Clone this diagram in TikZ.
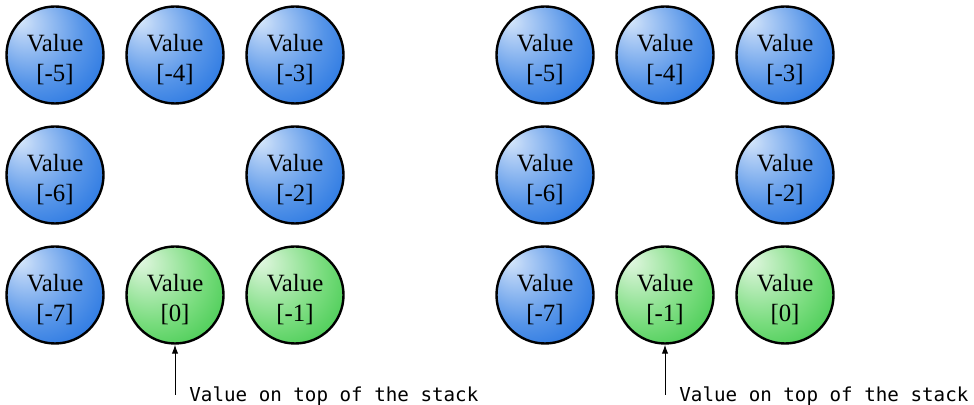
\documentclass[tikz,border=0pt]{standalone}
\usepackage{fontspec}
\setmainfont{Liberation Serif}
\setmonofont{DejaVu Sans Mono}
\usetikzlibrary{arrows.meta}

% spherical fills with a highlight towards the upper left
\pgfdeclareradialshading{bluesphere}{\pgfpoint{-18bp}{18bp}}{%
  color(0bp)=(rgb,255:red,212;green,230;blue,250);
  color(6bp)=(rgb,255:red,180;green,208;blue,246);
  color(26bp)=(rgb,255:red,85;green,148;blue,232);
  color(46bp)=(rgb,255:red,20;green,105;blue,222);
  color(70bp)=(rgb,255:red,0;green,88;blue,212)}
\pgfdeclareradialshading{greensphere}{\pgfpoint{-18bp}{18bp}}{%
  color(0bp)=(rgb,255:red,225;green,247;blue,225);
  color(6bp)=(rgb,255:red,200;green,240;blue,200);
  color(26bp)=(rgb,255:red,120;green,220;blue,125);
  color(46bp)=(rgb,255:red,50;green,196;blue,65);
  color(70bp)=(rgb,255:red,25;green,182;blue,40)}

\begin{document}
\begin{tikzpicture}[x=0.5pt,y=-0.5pt,
  cell/.style={circle,draw=black,line width=1.2pt,minimum size=48.5pt,inner sep=0pt},
  cellText/.style={align=center,inner sep=0pt,yshift=-2.3pt,
    font=\fontsize{12.4}{15.2}\selectfont},
  bluecell/.style={cell,shading=bluesphere},
  greencell/.style={cell,shading=greensphere},
  pointer/.style={line width=0.5pt,-{Latex[length=4.5pt,width=3.2pt]}},
  note/.style={anchor=west,inner sep=0pt,font=\ttfamily\fontsize{9.6}{11}\selectfont}]
\useasboundingbox (0,0) rectangle (974,405);

% left stack
\node[bluecell,label={[cellText]center:Value\\{}[-5]}]  (l5) at (55,55)   {};
\node[bluecell,label={[cellText]center:Value\\{}[-4]}]  (l4) at (175,55)  {};
\node[bluecell,label={[cellText]center:Value\\{}[-3]}]  (l3) at (295,55)  {};
\node[bluecell,label={[cellText]center:Value\\{}[-6]}]  (l6) at (55,175)  {};
\node[bluecell,label={[cellText]center:Value\\{}[-2]}]  (l2) at (295,175) {};
\node[bluecell,label={[cellText]center:Value\\{}[-7]}]  (l7) at (55,295)  {};
\node[greencell,label={[cellText]center:Value\\{}[0]}]  (l0) at (175,295) {};
\node[greencell,label={[cellText]center:Value\\{}[-1]}] (l1) at (295,295) {};
\coordinate (lp) at (175,395);
\node[note] (lt) at (189,396) {Value on top of the stack};
\draw[pointer] (lp) -- (l0.south);

% right stack
\node[bluecell,label={[cellText]center:Value\\{}[-5]}]  (r5) at (545,55)  {};
\node[bluecell,label={[cellText]center:Value\\{}[-4]}]  (r4) at (665,55)  {};
\node[bluecell,label={[cellText]center:Value\\{}[-3]}]  (r3) at (785,55)  {};
\node[bluecell,label={[cellText]center:Value\\{}[-6]}]  (r6) at (545,175) {};
\node[bluecell,label={[cellText]center:Value\\{}[-2]}]  (r2) at (785,175) {};
\node[bluecell,label={[cellText]center:Value\\{}[-7]}]  (r7) at (545,295) {};
\node[greencell,label={[cellText]center:Value\\{}[-1]}] (r1) at (665,295) {};
\node[greencell,label={[cellText]center:Value\\{}[0]}]  (r0) at (785,295) {};
\coordinate (rp) at (665,395);
\node[note] (rt) at (679,396) {Value on top of the stack};
\draw[pointer] (rp) -- (r1.south);
\end{tikzpicture}
\end{document}
